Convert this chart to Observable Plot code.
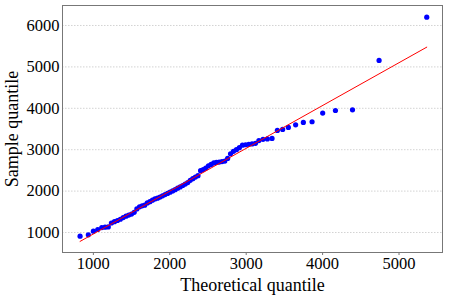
<!DOCTYPE html>
<html>
<head>
<meta charset="utf-8">
<script src="https://cdn.jsdelivr.net/npm/d3@7"></script>
<script src="https://cdn.jsdelivr.net/npm/@observablehq/plot@0.6"></script>
<style>
  html, body { margin: 0; padding: 0; background: #fff; }
  #chart svg { display: block; }
</style>
</head>
<body>
<div id="chart"></div>
<script>
// Theoretical quantiles (x) and sample quantiles (y)
const theoretical = [
  826, 934, 1000, 1057, 1110, 1153, 1195, 1236, 1276, 1315, 1353, 1390, 1427, 1463, 1499,
  1534, 1569, 1604, 1638, 1672, 1706, 1740, 1773, 1806, 1839, 1872, 1905, 1938, 1971, 2004,
  2037, 2070, 2103, 2136, 2169, 2202, 2235, 2268, 2301, 2335, 2369, 2403, 2437, 2471, 2506,
  2541, 2576, 2611, 2647, 2683, 2720, 2757, 2795, 2833, 2872, 2911, 2951, 2992, 3034, 3077,
  3121, 3166, 3220, 3277, 3338, 3408, 3477, 3552, 3647, 3748, 3862, 4001, 4168, 4391, 4739, 5363
];
const sample = [
  911, 945, 1031, 1072, 1120, 1128, 1135, 1230, 1262, 1290, 1320, 1360, 1395, 1420, 1445,
  1488, 1570, 1620, 1645, 1660, 1715, 1745, 1780, 1810, 1830, 1855, 1885, 1915, 1945, 1975,
  2005, 2035, 2070, 2100, 2135, 2170, 2205, 2260, 2300, 2340, 2372, 2494, 2520, 2555, 2610,
  2645, 2680, 2692, 2700, 2712, 2725, 2790, 2900, 2960, 3000, 3050, 3110, 3120, 3130, 3140,
  3155, 3220, 3250, 3260, 3272, 3465, 3489, 3537, 3602, 3658, 3675, 3884, 3947, 3964, 5157, 6200
];
// Reference line end points
const lineX = [826, 5363];
const lineY = [785, 5477];
const xTicks = [1000, 2000, 3000, 4000, 5000];
const yTicks = [1000, 2000, 3000, 4000, 5000, 6000];

const points = theoretical.map((x, i) => ({x, y: sample[i]}));
const fitLine = lineX.map((x, i) => ({x, y: lineY[i]}));

const font = "'Liberation Serif', 'DejaVu Serif', serif";

const chart = Plot.plot({
  width: 449,
  height: 299,
  marginLeft: 62,
  marginRight: 7,
  marginTop: 5,
  marginBottom: 47,
  style: {fontFamily: font, fontSize: "16.5px", color: "#000", background: "#fff"},
  x: {domain: [596, 5569], ticks: xTicks, tickFormat: d => String(d)},
  y: {domain: [517, 6483], ticks: yTicks, tickFormat: d => String(d)},
  marks: [
    Plot.gridY(yTicks, {stroke: "#c8c8c8", strokeOpacity: 1, strokeDasharray: "1.5,1.5", strokeWidth: 0.8}),
    Plot.axisX({ticks: xTicks, tickFormat: d => String(d), tickSize: 3, tickPadding: 2, stroke: "#777",
      label: "Theoretical quantile", labelAnchor: "center", labelArrow: "none", labelOffset: 38, fontSize: 16.5}),
    Plot.axisY({ticks: yTicks, tickFormat: d => String(d), tickSize: 0, tickPadding: 3,
      label: "Sample quantile", labelAnchor: "center", labelArrow: "none", labelOffset: 57, fontSize: 16.5}),
    Plot.dot(points, {x: "x", y: "y", r: 2.6, fill: "#0000ff", stroke: null}),
    Plot.line(fitLine, {x: "x", y: "y", stroke: "#ff0000", strokeWidth: 1}),
    Plot.frame({stroke: "#777", strokeWidth: 1})
  ]
});

// Axis label font size
chart.querySelectorAll("g[aria-label='x-axis label'] text, g[aria-label='y-axis label'] text")
  .forEach(t => t.setAttribute("font-size", "18px"));

document.getElementById("chart").appendChild(chart);
</script>
</body>
</html>
